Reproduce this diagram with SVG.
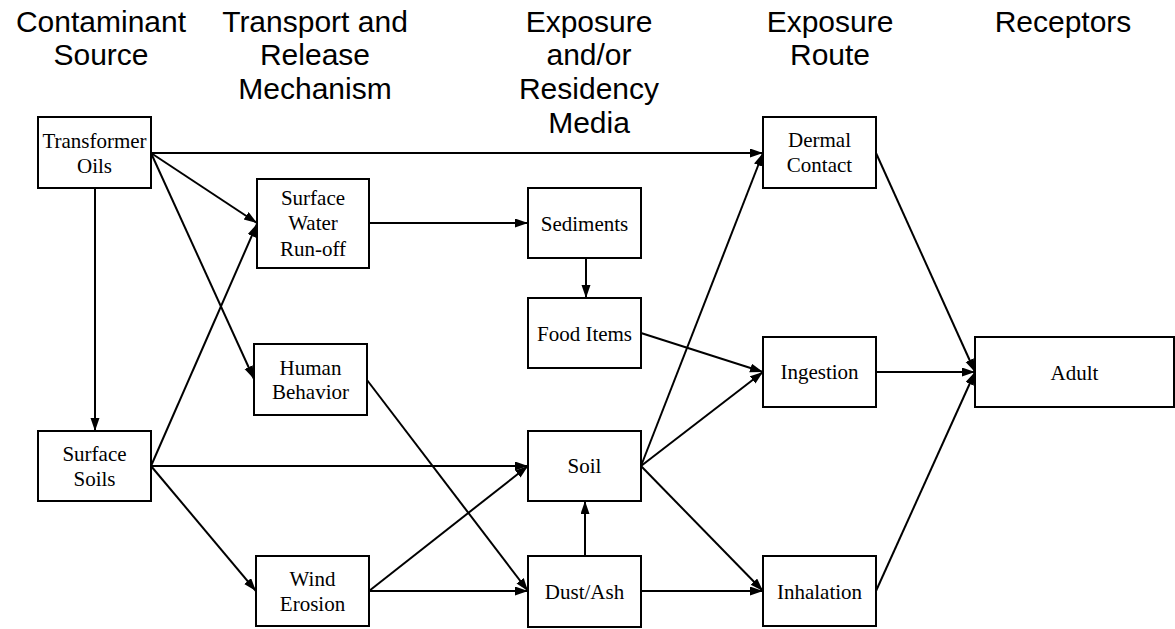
<svg xmlns="http://www.w3.org/2000/svg" width="1175" height="629" viewBox="0 0 1175 629">
<style>
.h{font-family:"Liberation Sans",Arial,sans-serif;font-size:30px;fill:#000;text-anchor:middle}
.n rect{fill:#fff;stroke:#000;stroke-width:2}
.n text{font-family:"Liberation Serif","Times New Roman",serif;font-size:21px;fill:#000;text-anchor:middle}
.c line{stroke:#000;stroke-width:2;marker-end:url(#ah)}
</style>
<defs>
<marker id="ah" markerUnits="userSpaceOnUse" markerWidth="14" markerHeight="10" refX="13" refY="4.5" orient="auto">
<path d="M0,0 L13,4.5 L0,9 z" fill="#000"/>
</marker>
</defs>
<rect width="1175" height="629" fill="#fff"/>
<g id="headers">
<text class="h" x="101" y="32">Contaminant</text>
<text class="h" x="101" y="65">Source</text>
<text class="h" x="315" y="32">Transport and</text>
<text class="h" x="315" y="65">Release</text>
<text class="h" x="315" y="99">Mechanism</text>
<text class="h" x="589" y="32">Exposure</text>
<text class="h" x="589" y="65">and/or</text>
<text class="h" x="589" y="99">Residency</text>
<text class="h" x="589" y="133">Media</text>
<text class="h" x="830" y="32">Exposure</text>
<text class="h" x="830" y="65">Route</text>
<text class="h" x="1063" y="32">Receptors</text>
</g>
<g id="connectors" class="c">
<line x1="151" y1="153" x2="763" y2="153"/>
<line x1="151" y1="153" x2="257" y2="223"/>
<line x1="151" y1="153" x2="254" y2="379"/>
<line x1="95" y1="188" x2="95" y2="431"/>
<line x1="151" y1="466" x2="257" y2="224"/>
<line x1="151" y1="466" x2="528" y2="466"/>
<line x1="151" y1="466" x2="256" y2="591"/>
<line x1="367" y1="380" x2="528" y2="591"/>
<line x1="369" y1="591" x2="528" y2="466"/>
<line x1="369" y1="591" x2="528" y2="591"/>
<line x1="369" y1="223" x2="528" y2="223"/>
<line x1="586" y1="258" x2="586" y2="298"/>
<line x1="585" y1="556" x2="585" y2="501"/>
<line x1="641" y1="333" x2="763" y2="372"/>
<line x1="641" y1="466" x2="763" y2="153"/>
<line x1="641" y1="466" x2="763" y2="372"/>
<line x1="641" y1="466" x2="763" y2="591"/>
<line x1="641" y1="591" x2="763" y2="591"/>
<line x1="876" y1="153" x2="975" y2="372"/>
<line x1="876" y1="372" x2="975" y2="372"/>
<line x1="876" y1="591" x2="975" y2="372"/>
</g>
<g id="transformer-oils" class="n"><rect x="38" y="117" width="113" height="71"/><text x="94.5" y="148">Transformer</text><text x="94.5" y="173">Oils</text></g>
<g id="surface-soils" class="n"><rect x="38" y="431" width="113" height="70"/><text x="94.5" y="461">Surface</text><text x="94.5" y="486">Soils</text></g>
<g id="surface-water-runoff" class="n"><rect x="257" y="179" width="112" height="89"/><text x="313" y="205">Surface</text><text x="313" y="230">Water</text><text x="313" y="256">Run-off</text></g>
<g id="human-behavior" class="n"><rect x="254" y="344" width="113" height="71"/><text x="310.5" y="375">Human</text><text x="310.5" y="399">Behavior</text></g>
<g id="wind-erosion" class="n"><rect x="256" y="556" width="113" height="70"/><text x="312.5" y="586">Wind</text><text x="312.5" y="611">Erosion</text></g>
<g id="sediments" class="n"><rect x="528" y="188" width="113" height="70"/><text x="584.5" y="231">Sediments</text></g>
<g id="food-items" class="n"><rect x="528" y="298" width="113" height="70"/><text x="584.5" y="341">Food Items</text></g>
<g id="soil" class="n"><rect x="528" y="431" width="113" height="70"/><text x="584.5" y="473">Soil</text></g>
<g id="dust-ash" class="n"><rect x="528" y="556" width="113" height="71"/><text x="584.5" y="599">Dust/Ash</text></g>
<g id="dermal-contact" class="n"><rect x="763" y="117" width="113" height="71"/><text x="819.5" y="147">Dermal</text><text x="819.5" y="172">Contact</text></g>
<g id="ingestion" class="n"><rect x="763" y="337" width="113" height="70"/><text x="819.5" y="379">Ingestion</text></g>
<g id="inhalation" class="n"><rect x="763" y="556" width="113" height="70"/><text x="819.5" y="599">Inhalation</text></g>
<g id="adult" class="n"><rect x="975" y="337" width="199" height="70"/><text x="1074.5" y="380">Adult</text></g>
</svg>
